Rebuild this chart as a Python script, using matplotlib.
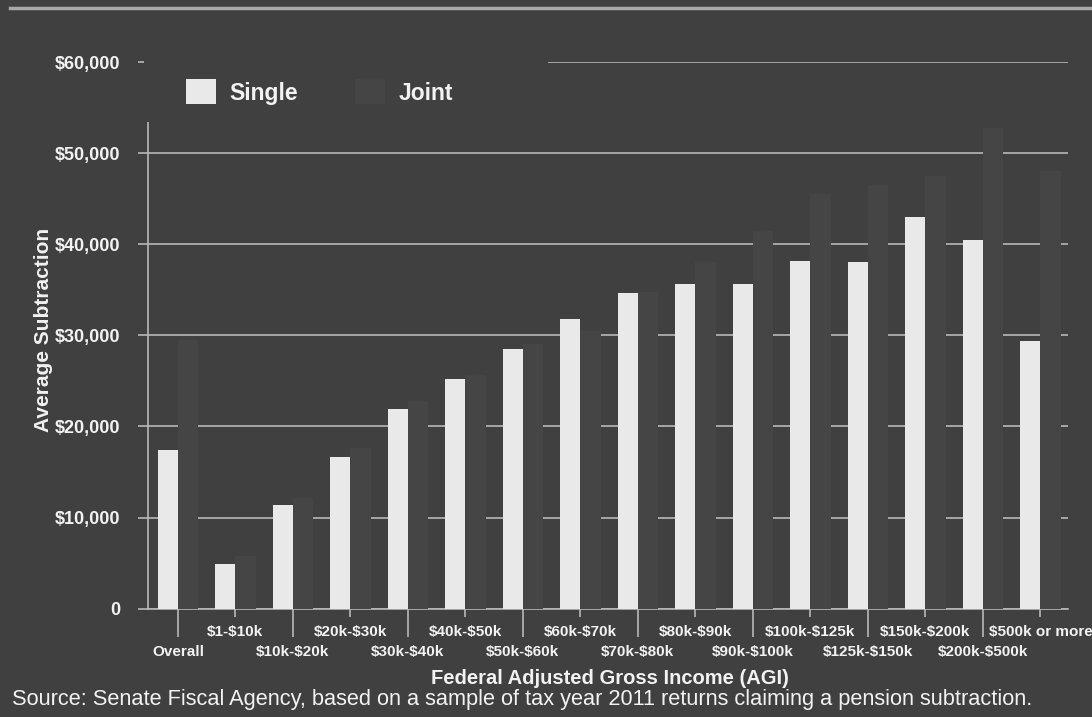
import matplotlib
matplotlib.use("Agg")
import matplotlib.pyplot as plt
from matplotlib.patches import Rectangle, Patch
from matplotlib.lines import Line2D
import numpy as np

# ---- data ----
categories = ["Overall", "$1-$10k", "$10k-$20k", "$20k-$30k", "$30k-$40k",
              "$40k-$50k", "$50k-$60k", "$60k-$70k", "$70k-$80k", "$80k-$90k",
              "$90k-$100k", "$100k-$125k", "$125k-$150k", "$150k-$200k",
              "$200k-$500k", "$500k or more"]
single = [17400, 4900, 11400, 16700, 21900, 25200, 28500, 31800, 34600,
          35600, 35600, 38200, 38000, 43000, 40500, 29400]
joint = [29500, 5800, 12200, 17600, 22800, 25600, 29000, 30500, 34800,
         38000, 41500, 45500, 46500, 47500, 52800, 48000]
yticks = [0, 10000, 20000, 30000, 40000, 50000, 60000]
ytick_labels = ["0", "$10,000", "$20,000", "$30,000", "$40,000", "$50,000", "$60,000"]
series_names = ["Single", "Joint"]

BG = "#404040"
SINGLE_C = "#e9e9e9"
JOINT_C = "#454545"
GRID_C = "#b8b8b8"
TXT = "#f2f2f2"
FONT = "Liberation Sans"

plt.rcParams['font.family'] = [FONT, 'DejaVu Sans']
plt.rcParams['text.parse_math'] = False

W, H = 1092, 717
fig = plt.figure(figsize=(W / 100, H / 100), dpi=100, facecolor=BG)
ax_left, ax_right, ax_bottom, ax_top = 148, 1068, 608.7, 62
ax = fig.add_axes([ax_left / W, (H - ax_bottom) / H,
                   (ax_right - ax_left) / W, (ax_bottom - ax_top) / H])
ax.set_facecolor(BG)

x = np.arange(len(categories))
bw = 0.35
ax.bar(x - bw / 2, single, width=bw, color=SINGLE_C, zorder=3, label=series_names[0])
ax.bar(x + bw / 2, joint, width=bw, color=JOINT_C, zorder=3, label=series_names[1])

ax.set_xlim(-0.52, 15.48)
ax.set_ylim(0, 60000)

# grid
ax.set_yticks(yticks, labels=ytick_labels)
ax.yaxis.grid(True, color=GRID_C, linewidth=1.2, zorder=1)
ax.set_axisbelow(True)

for s in ["top", "right"]:
    ax.spines[s].set_visible(False)
for s in ["left", "bottom"]:
    ax.spines[s].set_color(GRID_C)
    ax.spines[s].set_linewidth(1.2)

ax.tick_params(axis="y", colors=GRID_C, length=7, width=1.2, pad=13,
               labelsize=13, labelcolor=TXT)
for t in ax.get_yticklabels():
    t.set_fontweight("bold")

# staggered x tick labels
even = x[::2]
odd = x[1::2]
ax.set_xticks(even, labels=[categories[i] for i in even])
ax.set_xticks(odd, labels=[categories[i] for i in odd], minor=True)
ax.tick_params(axis="x", which="major", length=20, width=1.2, colors=GRID_C,
               pad=6, labelsize=11, labelcolor=TXT)
ax.tick_params(axis="x", which="minor", length=6, width=1.2, colors=GRID_C,
               pad=6, labelsize=11, labelcolor=TXT)
for t in ax.get_xticklabels(which="both"):
    t.set_fontweight("bold")

# labels
ax.set_ylabel("Average Subtraction", color=TXT, fontsize=15, fontweight="bold")
ax.yaxis.set_label_coords(-0.103, 0.51)
ax.set_xlabel("Federal Adjusted Gross Income (AGI)", color=TXT, fontsize=14.5,
              fontweight="bold")
ax.xaxis.set_label_coords(0.502, -0.111)

# legend area mask (covers gridline/axis where legend sits)
ax.add_patch(Rectangle((-0.004, (ax_bottom - 122) / (ax_bottom - ax_top)),
                       (548 - ax_left) / (ax_right - ax_left) + 0.004, 0.2,
                       transform=ax.transAxes, facecolor=BG, edgecolor="none",
                       zorder=4, clip_on=False))
handles = [Patch(facecolor=SINGLE_C, edgecolor="none"),
           Patch(facecolor=JOINT_C, edgecolor="none")]
leg = ax.legend(handles, series_names, ncol=2, frameon=False,
                loc="center left", bbox_to_anchor=((186 - ax_left) / (ax_right - ax_left),
                                                   (ax_bottom - 92) / (ax_bottom - ax_top)),
                borderaxespad=0, borderpad=0,
                prop={"family": FONT, "weight": "bold", "size": 16.5},
                handlelength=1.3, handleheight=1.3, handletextpad=0.6,
                columnspacing=2.5, labelcolor=TXT)
leg.set_zorder(6)

# source note
fig.text(12 / W, (H - 700) / H,
         "Source: Senate Fiscal Agency, based on a sample of tax year 2011 returns claiming a pension subtraction.",
         color=TXT, fontsize=15.7, va="center", ha="left")

# scanned slide top border line
fig.add_artist(Line2D([10 / W, 1.0], [(H - 8) / H, (H - 8) / H], color="#a8a8a8",
                      linewidth=2.5, transform=fig.transFigure))

fig.savefig("out.png", dpi=100, facecolor=BG)
